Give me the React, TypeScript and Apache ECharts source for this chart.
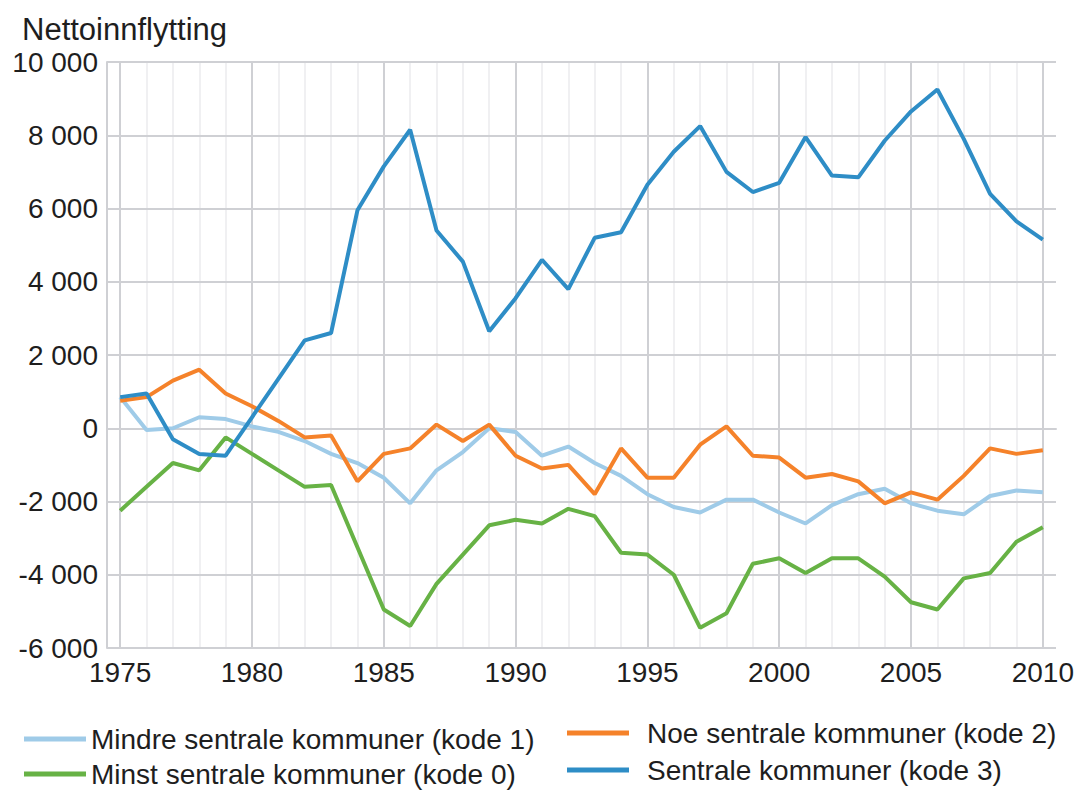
import React, { useEffect, useRef } from 'react';
import * as echarts from 'echarts';

const years = [
  1975, 1976, 1977, 1978, 1979, 1980, 1981, 1982, 1983, 1984,
  1985, 1986, 1987, 1988, 1989, 1990, 1991, 1992, 1993, 1994,
  1995, 1996, 1997, 1998, 1999, 2000, 2001, 2002, 2003, 2004,
  2005, 2006, 2007, 2008, 2009, 2010,
];

const mindre = [
  850, -50, 0, 300, 250, 50, -100, -350, -700, -950,
  -1350, -2050, -1150, -650, 0, -100, -750, -500, -950, -1300,
  -1800, -2150, -2300, -1950, -1950, -2300, -2600, -2100, -1800, -1650,
  -2050, -2250, -2350, -1850, -1700, -1750,
];

const noe = [
  750, 850, 1300, 1600, 950, 600, 200, -250, -200, -1450,
  -700, -550, 100, -350, 100, -750, -1100, -1000, -1800, -550,
  -1350, -1350, -450, 50, -750, -800, -1350, -1250, -1450, -2050,
  -1750, -1950, -1300, -550, -700, -600,
];

const minst = [
  -2250, -1600, -950, -1150, -250, -700, -1150, -1600, -1550, -3250,
  -4950, -5400, -4250, -3450, -2650, -2500, -2600, -2200, -2400, -3400,
  -3450, -4000, -5450, -5050, -3700, -3550, -3950, -3550, -3550, -4050,
  -4750, -4950, -4100, -3950, -3100, -2700,
];

const sentrale = [
  850, 950, -300, -700, -750, 300, 1350, 2400, 2600, 5950,
  7150, 8150, 5400, 4550, 2650, 3550, 4600, 3800, 5200, 5350,
  6650, 7550, 8250, 7000, 6450, 6700, 7950, 6900, 6850, 7850,
  8650, 9250, 7900, 6400, 5650, 5150,
];

const seriesNames = [
  'Mindre sentrale kommuner (kode 1)',
  'Noe sentrale kommuner (kode 2)',
  'Minst sentrale kommuner (kode 0)',
  'Sentrale kommuner (kode 3)',
];
const seriesValues = [mindre, noe, minst, sentrale];
const seriesColors = ['#9fcbe8', '#f5822a', '#67b245', '#2e8dc6'];

const yMin = -6000;
const yMax = 10000;
const yStep = 2000;

const FONT = "'Liberation Sans', Arial, Helvetica, sans-serif";
const TEXT = '#1e1e1e';
const GRID_MAJOR = '#cfd0d4';
const GRID_MINOR = '#ebebee';

function fmt(v: number): string {
  const s = Math.abs(v).toString().replace(/\B(?=(\d{3})+(?!\d))/g, ' ');
  return (v < 0 ? '-' : '') + s;
}

export default function App() {
  const ref = useRef<HTMLDivElement>(null);
  useEffect(() => {
    if (!ref.current) return;
    const chart = echarts.init(ref.current, null, { renderer: 'svg' });
    const vLines = years.map((y) => ({
      xAxis: y,
      lineStyle: {
        color: y % 5 === 0 ? GRID_MAJOR : GRID_MINOR,
        width: y % 5 === 0 ? 2 : 1.5,
        type: 'solid',
      },
    }));
    const dataSeries = seriesNames.map((name, k) => ({
      name,
      type: 'line',
      data: years.map((y, i) => [y, seriesValues[k][i]]),
      symbol: 'none',
      z: 3,
      lineStyle: { width: 4, color: seriesColors[k] },
      itemStyle: { color: seriesColors[k] },
    }));
    const legendText = { fontSize: 28, color: TEXT, fontFamily: FONT };
    chart.setOption({
      animation: false,
      title: {
        text: 'Nettoinnflytting',
        left: 17,
        top: 9,
        textStyle: { fontSize: 31, fontWeight: 'normal', color: TEXT, fontFamily: FONT },
      },
      grid: { left: 107, right: 22, top: 62, bottom: 143, containLabel: false },
      legend: [
        {
          data: [seriesNames[0], seriesNames[2]],
          orient: 'vertical',
          left: 24,
          top: 725,
          padding: 0,
          icon: 'rect',
          itemWidth: 62,
          itemHeight: 5,
          itemGap: 7,
          textStyle: legendText,
        },
        {
          data: [seriesNames[1], seriesNames[3]],
          orient: 'vertical',
          left: 567,
          top: 719,
          padding: 0,
          icon: 'rect',
          itemWidth: 62,
          itemHeight: 5,
          itemGap: 9,
          textStyle: { ...legendText, padding: [0, 0, 0, 13] },
        },
      ],
      xAxis: {
        type: 'value',
        min: 1974.5,
        max: 2010.5,
        interval: 0.5,
        axisLine: { show: true, lineStyle: { color: GRID_MAJOR, width: 2 } },
        axisTick: { show: false },
        splitLine: { show: false },
        axisLabel: {
          formatter: (v: number) => (v % 5 === 0 ? String(v) : ''),
          fontSize: 28,
          color: TEXT,
          fontFamily: FONT,
          margin: 10,
        },
      },
      yAxis: {
        type: 'value',
        min: yMin,
        max: yMax,
        interval: yStep,
        z: 2,
        axisLine: { show: true, lineStyle: { color: GRID_MAJOR, width: 2 } },
        axisTick: { show: false },
        splitLine: { show: true, lineStyle: { color: GRID_MAJOR, width: 2 } },
        axisLabel: {
          formatter: (v: number) => fmt(v),
          fontSize: 28,
          color: TEXT,
          fontFamily: FONT,
          margin: 9,
          padding: [10, 0, 0, 0],
        },
      },
      series: [
        {
          type: 'line',
          data: [],
          z: 1,
          silent: true,
          markLine: {
            z: 1,
            silent: true,
            animation: false,
            symbol: ['none', 'none'],
            label: { show: false },
            emphasis: { disabled: true },
            data: vLines,
          },
        },
        ...dataSeries,
      ],
    });
    return () => chart.dispose();
  }, []);
  return (
    <div
      ref={ref}
      style={{ position: 'fixed', left: 0, top: 0, width: 1078, height: 791, background: '#fff' }}
    />
  );
}
